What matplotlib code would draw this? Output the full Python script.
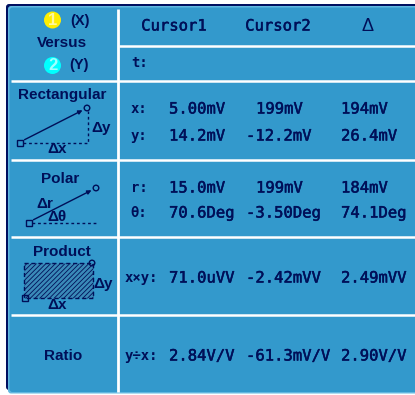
import matplotlib
matplotlib.use('Agg')
import matplotlib.pyplot as plt
import matplotlib.patheffects as pe
from matplotlib.patches import FancyBboxPatch, Rectangle, Circle

# readings, one list per column
row_labels = ['x:', 'y:', 'r:', 'θ:', 'x×y:', 'y÷x:']
cursor1 = ['5.00mV', '14.2mV', '15.0mV', '70.6Deg', '71.0uVV', '2.84V/V']
cursor2 = ['199mV', '-12.2mV', '199mV', '-3.50Deg', '-2.42mVV', '-61.3mV/V']
delta = ['194mV', '26.4mV', '184mV', '74.1Deg', '2.49mVV', '2.90V/V']
headers = ['Cursor1', 'Cursor2']
modes = ['Rectangular', 'Polar', 'Product', 'Ratio']

row_y = [109, 136, 188, 213, 278, 356]
navy = '#000f58'
panel = '#3399cc'
mono = 'DejaVu Sans Mono'
sans = 'Liberation Sans'
plt.rcParams['hatch.linewidth'] = 0.6
heavy = [pe.withStroke(linewidth=0.35, foreground=navy)]

fig = plt.figure(figsize=(4.15, 3.95), dpi=100)
ax = fig.add_axes([0, 0, 1, 1])
ax.set_xlim(0, 415)
ax.set_ylim(395, 0)
ax.axis('off')

# panel body, dark outer edge then light inner edge
ax.add_patch(FancyBboxPatch((6, 4), 430, 386, boxstyle='round,pad=0,rounding_size=3', fc='#001060', ec='none'))
ax.add_patch(FancyBboxPatch((8, 6), 430, 387.5, boxstyle='round,pad=0,rounding_size=3', fc='#62b8e0', ec='none'))
ax.add_patch(FancyBboxPatch((9.5, 7.5), 430, 384.5, boxstyle='round,pad=0,rounding_size=3', fc=panel, ec='none'))

# white grid
ax.plot([118, 118], [9, 392], color='white', lw=2, solid_capstyle='butt')
for y, x0 in [(46, 119), (81, 11), (160, 11), (237, 11), (315, 11)]:
    ax.plot([x0, 415], [y, y], color='white', lw=1.8, solid_capstyle='butt')

# top left cell
ax.add_patch(Circle((52.5, 20), 8.5, fc='#ffee00', ec='none'))
ax.add_patch(Circle((52.5, 65.5), 8.5, fc='#00ffff', ec='none'))
ax.text(52.5, 20.5, '1', color='#fff8a0', fontsize=12, fontweight='bold', ha='center', va='center', family=sans)
ax.text(52.5, 66, '2', color='#a0ffff', fontsize=12, fontweight='bold', ha='center', va='center', family=sans)
ax.text(80, 20.5, '(X)', color=navy, fontsize=10.5, fontweight='bold', ha='center', va='center', family=sans)
ax.text(79, 65.5, '(Y)', color=navy, fontsize=10.5, fontweight='bold', ha='center', va='center', family=sans)
ax.text(62, 43, 'Versus', color=navy, fontsize=11, fontweight='bold', ha='center', va='center', family=sans)

# mode names
for name, x, y in zip(modes, [62, 60, 62, 63], [95, 179, 252, 356]):
    ax.text(x, y, name, color=navy, fontsize=11, fontweight='bold', ha='center', va='center', family=sans)


def label(x, y, s):
    ax.text(x, y, s, color=navy, fontsize=11, fontweight='bold', ha='center', va='center', family=sans)


def ends(x0, y0, x1, y1):
    ax.add_patch(Rectangle((x0 - 3, y0 - 3), 6, 6, fc='none', ec=navy, lw=1, zorder=4))
    ax.add_patch(Circle((x1, y1), 2.8, fc='none', ec=navy, lw=1, zorder=4))


# rectangular sketch
ax.annotate('', xy=(85, 109), xytext=(22, 141), arrowprops=dict(arrowstyle='-|>', color=navy, lw=1, mutation_scale=6))
ax.plot([23, 88, 88], [143, 143, 111], color=navy, lw=1, ls=(0, (2, 2)))
ends(20, 143, 87, 108)
label(101, 128, 'Δy')
label(57, 149, 'Δx')

# polar sketch
ax.annotate('', xy=(94, 189), xytext=(31, 221), arrowprops=dict(arrowstyle='-|>', color=navy, lw=1, mutation_scale=6))
ax.plot([32, 97], [223, 223], color=navy, lw=1, ls=(0, (2, 2)))
ends(29, 223, 96, 188)
label(45, 204, 'Δr')
label(57, 217, 'Δθ')

# product sketch
ax.add_patch(Rectangle((24, 263), 69, 35, fc='#3a8ab8', ec=navy, lw=1, ls=(0, (3, 2)), hatch='///////'))
ends(25, 298, 92, 263)
label(103.5, 284, 'Δy')
label(57, 305, 'Δx')

# header row
for name, x in zip(headers, [174, 278]):
    ax.text(x, 26, name, color=navy, fontsize=11.2, ha='center', va='center', family=mono, path_effects=heavy)
ax.text(367, 26.5, 'Δ', color=navy, fontsize=13, ha='center', va='center', family=sans)
ax.text(140, 63, 't:', color=navy, fontsize=10, fontweight='bold', ha='center', va='center', family=mono)

# readings
for lab, y, a, b, c in zip(row_labels, row_y, cursor1, cursor2, delta):
    ax.text(158 if len(lab) > 2 else 147.5, y, lab, color=navy, fontsize=10, fontweight='bold', ha='right', va='center', family=mono)
    ax.text(169, y, a, color=navy, fontsize=11.2, ha='left', va='center', family=mono, path_effects=heavy)
    ax.text(256 if not b.startswith('-') else 246, y, b, color=navy, fontsize=11.2, ha='left', va='center', family=mono, path_effects=heavy)
    ax.text(341, y, c, color=navy, fontsize=11.2, ha='left', va='center', family=mono, path_effects=heavy)

fig.savefig('out.png', dpi=100)
